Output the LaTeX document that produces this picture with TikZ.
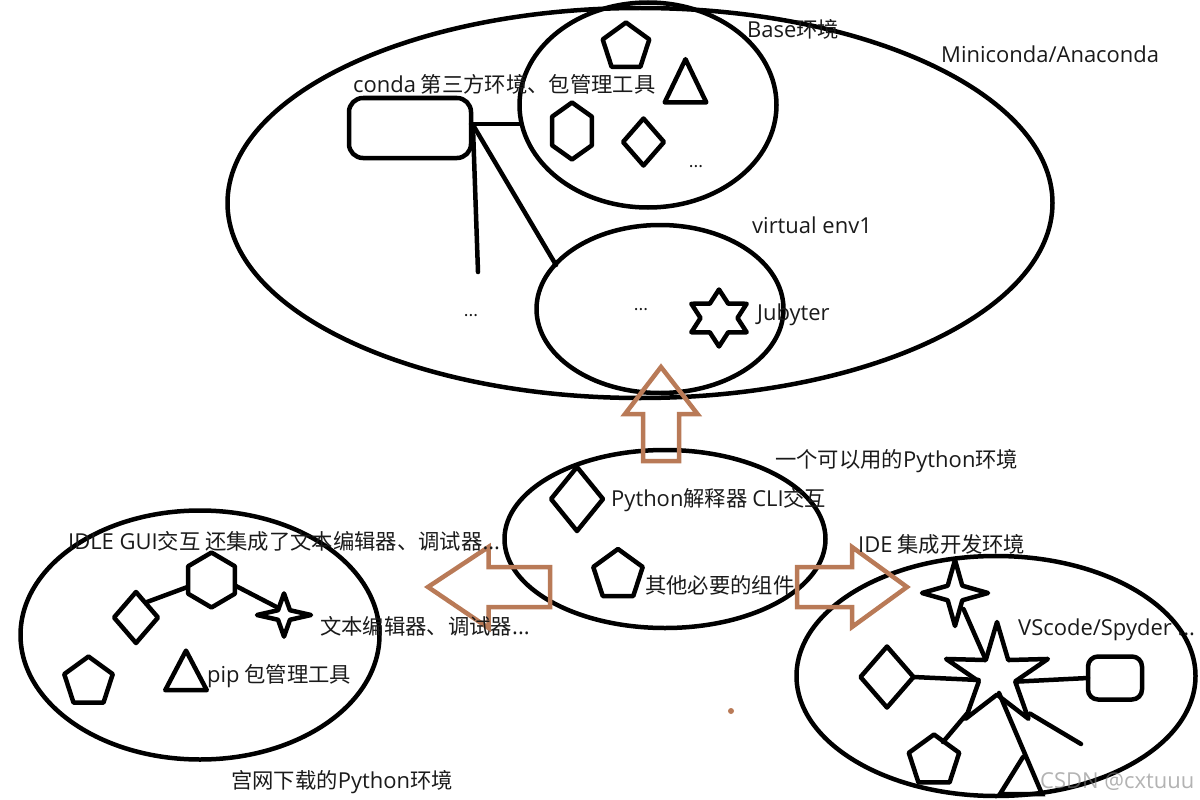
\documentclass[tikz,border=0pt]{standalone}
\usepackage{fontspec}
\setmainfont{Noto Sans CJK SC}
\newfontfamily\latfont[Scale=1.03]{Open Sans}
\newcommand{\La}[1]{{\latfont #1}}
\usetikzlibrary{shapes.geometric}
\definecolor{ink}{HTML}{1A1A1A}
\definecolor{brownarrow}{HTML}{B97A57}
\tikzset{
  x=1pt,y=-1pt,
  shapeline/.style={draw=black,line width=4.5pt,inner sep=0pt,outer sep=0pt,line join=round},
  blob/.style={shapeline,ellipse},
  pent/.style={shapeline,regular polygon,regular polygon sides=5,minimum size=#1},
  hexa/.style={shapeline,regular polygon,regular polygon sides=6,shape border rotate=90,minimum size=#1},
  tria/.style={shapeline,regular polygon,regular polygon sides=3,minimum size=#1},
  diam/.style={shapeline,diamond},
  astar/.style={shapeline,star},
  link/.style={line width=4.5pt,draw=black,line cap=round},
  bigarrow/.style={draw=brownarrow,line width=4.5pt,line join=miter},
  lab/.style={anchor=west,text=ink,inner sep=0pt,font=\fontsize{21.33}{24}\selectfont},
  dots/.style={anchor=center,text=ink,inner sep=0pt,font=\fontsize{17}{18}\selectfont}
}
\begin{document}
\begin{tikzpicture}
\useasboundingbox (0,0) rectangle (1200,800);
% ellipses
\node[blob,minimum width=825pt,minimum height=390pt] (big) at (640,203) {};
\node[blob,minimum width=257pt,minimum height=205pt] (base) at (648,105) {};
\node[blob,minimum width=247pt,minimum height=168pt] (venv) at (660,309) {};
\node[blob,minimum width=321pt,minimum height=178pt] (py) at (665,539) {};
\node[blob,minimum width=359pt,minimum height=249pt] (off) at (200,635) {};
\node[blob,minimum width=399pt,minimum height=240pt] (ide) at (996,676) {};
% conda block
\node[shapeline,rectangle,rounded corners=14pt,minimum width=122pt,minimum height=60pt] (conda) at (410,128) {};
\coordinate (free1) at (478,272);
\draw[link] (conda.east |- 0,124) -- (base.west |- 0,124);
\draw[link] (473,128) -- (free1);
\draw[link] (473,125) -- (556,265);
% base shapes
\node[pent=49pt] (bpent) at (626,47) {};
\node[tria=48pt,yscale=1.2,transform shape] (btri) at (685.5,88) {};
\node[hexa=57pt,xscale=0.81,transform shape] (bhex) at (572,131) {};
\node[diam,minimum width=41pt,minimum height=47pt] (bdia) at (643.5,142) {};
\node[dots] (bdots) at (696,167) {...};
% venv shapes
\node[astar,star points=6,star point ratio=1.73,minimum size=57pt,xscale=1.12,transform shape] (jstar) at (719,318) {};
\node[dots] (vdots) at (641,310) {...};
\node[dots] (cdots) at (471,316) {...};
% python shapes
\node[diam,minimum width=52pt,minimum height=64pt] (pdia) at (577,499) {};
\node[pent=52pt] (ppent) at (618,575) {};
% left shapes
\node[hexa=55pt,xscale=0.98,transform shape] (lhex) at (211.5,580) {};
\node[diam,minimum width=44pt,minimum height=51pt] (ldia) at (136,617.5) {};
\node[astar,star points=4,star point ratio=3.2,minimum size=54pt,yscale=0.8,transform shape] (lstar) at (284,615) {};
\node[pent=51pt] (lpent) at (88.5,682) {};
\node[tria=48pt,yscale=1.1,transform shape] (ltri) at (186,677) {};
\draw[link] (147,602) -- (187.5,587);
\draw[link] (236,586) -- (278.5,608);
% right shapes
\node[astar,star points=4,star point ratio=3.2,minimum size=66pt] (rstar) at (955,593) {};
\node[astar,star points=5,star point ratio=2.8,minimum size=107pt] (hub) at (997,675.5) {};
\node[diam,minimum width=53pt,minimum height=61pt] (rdia) at (887,677) {};
\node[shapeline,rectangle,rounded corners=10pt,minimum width=54pt,minimum height=43pt] (rbox) at (1115,678) {};
\node[pent=53pt] (rpent) at (934,761) {};
\coordinate (free2) at (1081,744);
\draw[link] (963.5,609) -- (985,658);
\draw[link] (rdia.east) -- (978.6,680);
\draw[link] (1017,681.6) -- (rbox.west);
\draw[link] (967,713.6) -- (943,742);
\draw[link] (999,693) -- (1042,794) -- (1000,794) -- (1023,757);
\draw[link] (1030,713.6) -- (free2);
% brown arrows
\draw[bigarrow] (643,461) -- (643,414) -- (625,414) -- (661,367) -- (697.5,414) -- (679,414) -- (679,461) -- cycle;
\draw[bigarrow] (550,567) -- (488.5,567) -- (488.5,547) -- (428,587) -- (488.5,628) -- (488.5,607) -- (550,607) -- cycle;
\draw[bigarrow] (797,567) -- (852,567) -- (852,547) -- (907,587) -- (852,627) -- (852,607) -- (797,607) -- cycle;
\fill[brownarrow] (731,711) circle (3pt);
% labels
\node[lab] (t1) at (747,29) {\La{Base}环境};
\node[lab] (t2) at (941,54) {\La{Miniconda/Anaconda}};
\node[lab] (t3) at (353,84) {\La{conda} 第三方环境、包管理工具};
\node[lab] (t4) at (752,225) {\La{virtual env1}};
\node[lab] (t5) at (757,315) {\La{Jubyter}};
\node[lab] (t6) at (775,461) {一个可以用的\La{Python}环境};
\node[lab] (t7) at (611,500) {\La{Python}解释器 \La{CLI}交互};
\node[lab] (t8) at (645,585) {其他必要的组件};
\node[lab] (t9) at (858,544) {\La{IDE} 集成开发环境};
\node[lab] (t10) at (68,541) {\La{IDLE GUI}交互 还集成了文本编辑器、调试器\La{...}};
\node[lab] (t11) at (320,626) {文本编辑器、调试器\La{...}};
\node[lab] (t12) at (207,676) {\La{pip} 包管理工具};
\node[lab] (t13) at (231,782) {宫网下载的\La{Python}环境};
\node[lab] (t14) at (1018,630) {\La{VScode/Spyder ...}};
\node[lab,text=gray,opacity=0.6] (t15) at (1040,782) {\La{CSDN @cxtuuu}};
\end{tikzpicture}
\end{document}
